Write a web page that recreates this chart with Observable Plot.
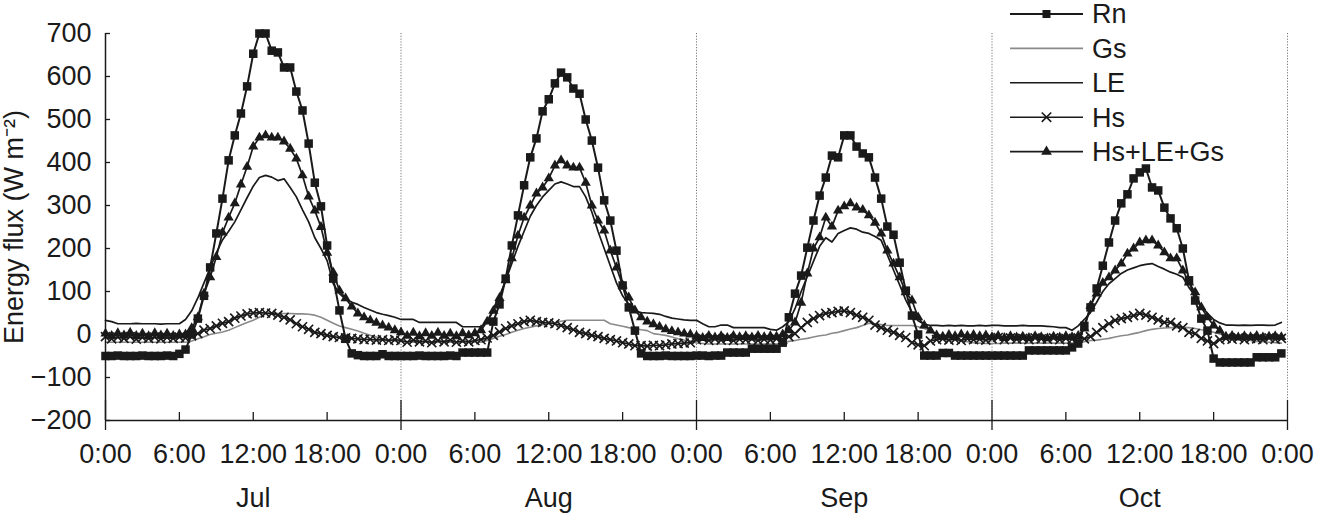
<!DOCTYPE html>
<html><head><meta charset="utf-8">
<script src="https://cdn.jsdelivr.net/npm/d3@7"></script>
<script src="https://cdn.jsdelivr.net/npm/@observablehq/plot@0.6"></script>
<style>
body{margin:0;background:#fff;}
#wrap{position:relative;width:1319px;height:513px;}
#legend{position:absolute;left:0;top:0;pointer-events:none;}
</style></head><body><div id="wrap"></div>
<script>
const FONT = '"Liberation Sans", Arial, Helvetica, sans-serif';
const INK = "#1a1a1a";
const months = ["Jul", "Aug", "Sep", "Oct"];
const hourTicks = [0,6,12,18,24,30,36,42,48,54,60,66,72,78,84,90,96];
const dayTicks = [0,24,48,72,96];
const minorTicks = [6,12,18,30,36,42,54,60,66,78,84,90];
const monthTicks = [12,36,60,84];
const yTicks = [-200,-100,0,100,200,300,400,500,600,700];
const yLabel = "Energy flux (W m\u207B\u00B2)";
const seriesNames = ["Rn", "Gs", "LE", "Hs", "Hs+LE+Gs"];

// half-hourly values, 48 per day (0:00 ... 23:30)
const rnJul = [-50,-50,-49,-50,-50,-50,-49,-50,-50,-50,-49,-50, -45,-35,0,37,90,156,235,316,405,463,514,577, 653,700,700,660,656,621,621,565,521,444,353,298, 207,130,56,-10,-44,-48,-50,-50,-50,-46,-50,-50];
const rnAug = [-50,-50,-50,-49,-50,-50,-50,-50,-49,-50,-42,-42, -42,-42,-42,30,70,130,207,277,347,412,456,519, 547,584,609,598,572,560,500,451,388,312,265,195, 114,63,9,-44,-50,-50,-50,-49,-50,-50,-50,-50];
const rnSep = [-49,-49,-50,-49,-49,-42,-42,-42,-42,-33,-33,-33, -33,-33,-19,40,95,137,202,265,323,365,416,412, 463,463,437,421,412,365,316,251,232,167,102,44, 0,-49,-49,-49,-43,-43,-49,-49,-49,-49,-49,-49];
const rnOct = [-49,-49,-49,-49,-49,-49,-37,-37,-37,-37,-37,-37, -37,-30,-21,20,63,107,160,214,265,305,326,363, 377,386,342,335,295,270,247,200,126,79,37,9, -56,-65,-65,-65,-65,-65,-65,-53,-53,-53,-53,-44];

const gsJul = [-18,-18,-18,-18,-18,-18,-18,-18,-18,-18,-18,-18, -18,-18,-15,-10,-5,0,3,6,10,16,22,28, 33,40,48,49,49,49,49,48,48,47,45,40, 33,26,20,16,12,8,3,-2,-6,-10,-13,-15];
const gsAug = [-16,-17,-18,-18,-18,-18,-18,-18,-18,-18,-18,-18, -18,-18,-14,-9,-4,0,5,10,14,17,20,23, 26,28,31,33,33,33,33,33,33,33,25,22, 19,16,14,11,9,2,0,-2,-6,-10,-13,-15];
const gsSep = [-20,-21,-22,-22,-22,-22,-22,-22,-22,-22,-22,-22, -22,-22,-20,-16,-14,-11,-9,-6,-3,-1,3,5, 9,13,16,21,26,25,23,21,21,21,21,21, 18,14,8,2,-3,-8,-12,-15,-17,-19,-20,-21];
const gsOct = [-21,-21,-20,-20,-20,-20,-20,-20,-20,-20,-20,-20, -20,-20,-19,-17,-14,-13,-11,-9,-6,-3,-1,2, 5,9,12,14,15,16,16,16,16,14,11,9, 5,1,-3,-6,-9,-12,-14,-16,-17,-18,-19,-20];

const leJul = [33,30,25,25,25,26,25,25,25,24,25,25, 25,35,55,85,120,155,190,220,240,262,290,318, 345,365,370,366,358,362,342,320,290,262,225,200, 172,118,95,82,75,70,63,57,51,47,44,40];
const leAug = [35,35,35,28,28,28,28,28,28,28,18,18, 18,18,30,60,90,125,165,205,240,275,300,320, 335,350,355,350,344,344,320,285,240,200,160,120, 90,70,55,51,50,49,47,42,38,36,34,33];
const leSep = [33,25,18,18,22,22,16,16,16,16,16,16, 12,10,18,30,60,100,135,170,205,225,215,235, 242,248,245,238,235,228,219,185,150,115,80,52, 32,24,21,21,20,21,20,21,20,20,21,20];
const leOct = [21,21,20,20,20,21,20,20,20,19,18,16, 16,10,20,35,51,75,100,118,130,142,150,155, 160,163,165,158,152,145,140,133,109,90,65,49, 35,27,22,22,21,22,21,22,22,21,22,28];

const hsJul = [-5,-10,-6,-9,-5,-11,-7,-9,-6,-10,-7,-9, -6,-8,-3,2,10,14,20,26,30,38,43,48, 50,51,50,49,45,40,34,25,18,12,5,2, -2,-5,-7,-8,-9,-10,-12,-11,-13,-12,-14,-12];
const hsAug = [-14,-18,-13,-17,-15,-19,-14,-17,-13,-18,-15,-17, -14,-12,-8,-2,6,14,20,25,30,33,30,28, 27,25,21,16,11,5,2,-2,-5,-9,-12,-15, -19,-22,-26,-26,-27,-25,-26,-24,-22,-21,-20,-19];
const hsSep = [-12,-9,-14,-10,-13,-9,-14,-11,-12,-10,-14,-11, -13,-10,-12,-5,2,16,28,37,44,49,51,54, 55,51,45,40,33,22,16,10,5,-2,-7,-19, -24,-26,-15,-12,-10,-13,-11,-14,-10,-12,-11,-13];
const hsOct = [-10,-7,-12,-8,-11,-9,-12,-8,-10,-11,-8,-12, -9,-11,-8,-10,-5,5,16,25,33,37,40,44, 49,45,40,34,28,28,20,16,5,2,-9,-15, -21,-12,-9,-11,-8,-12,-9,-10,-12,-8,-11,-9];

const sumJul = [2,-3,3,-2,4,-3,2,-4,3,-2,2,-3, 0,0,15,40,95,133,180,237,272,305,349,390, 437,458,463,458,458,449,432,409,370,321,288,250, 190,144,102,84,65,49,40,33,27,21,16,10];
const sumAug = [5,-3,4,-4,3,-3,4,-3,2,-4,3,-2, 3,10,30,55,85,126,177,230,272,300,328,342, 363,393,405,393,388,388,353,300,265,242,195,156, 114,86,56,40,30,24,18,12,8,5,2,0];
const sumSep = [-4,-8,-3,-7,-4,-8,-3,-6,-4,-7,-3,-6, -4,-5,0,10,28,74,142,200,226,272,251,288, 298,305,295,290,277,260,235,195,165,133,98,79, 40,21,9,-2,-5,-1,-4,0,-3,-1,-4,-2];
const sumOct = [-6,-3,-8,-4,-7,-5,-8,-4,-6,-9,-5,-7, -4,-6,-3,14,67,95,120,133,149,165,188,200, 214,219,219,207,191,177,177,149,121,98,63,40, 21,9,-5,-3,-7,-4,-6,-3,-7,-5,-4,-6];

const halfHours = d3.range(0, 96, 0.5);
const toRows = (...days) => days.flat().map((v, i) => ({t: halfHours[i], v}));
const rn = toRows(rnJul, rnAug, rnSep, rnOct);
const gs = toRows(gsJul, gsAug, gsSep, gsOct);
const le = toRows(leJul, leAug, leSep, leOct);
const hs = toRows(hsJul, hsAug, hsSep, hsOct);
const sum = toRows(sumJul, sumAug, sumSep, sumOct);

const GREY = "#8a8a8a";
const chart = Plot.plot({
  width: 1319, height: 513,
  marginLeft: 105, marginRight: 32, marginTop: 33, marginBottom: 93,
  style: {fontFamily: FONT, fontSize: "27px", color: INK, background: "white"},
  x: {domain: [0, 96], axis: null},
  y: {domain: [-200, 700], axis: null},
  marks: [
    Plot.ruleX(dayTicks.slice(1), {stroke: "#777", strokeDasharray: "1.2,1.6", strokeWidth: 1}),
    Plot.line(gs, {x: "t", y: "v", stroke: GREY, strokeWidth: 1.6}),
    Plot.line(le, {x: "t", y: "v", stroke: INK, strokeWidth: 1.7}),
    Plot.line(sum, {x: "t", y: "v", stroke: INK, strokeWidth: 1.7}),
    Plot.dot(sum, {x: "t", y: "v", symbol: "triangle", r: 3.8, fill: INK, stroke: "none"}),
    Plot.line(hs, {x: "t", y: "v", stroke: INK, strokeWidth: 1.7}),
    Plot.dot(hs, {x: "t", y: "v", symbol: "times", r: 4.2, fill: "none", stroke: INK, strokeWidth: 1.6}),
    Plot.line(rn, {x: "t", y: "v", stroke: INK, strokeWidth: 2}),
    Plot.dot(rn, {x: "t", y: "v", symbol: "square", r: 4.8, fill: INK, stroke: "none"}),
    Plot.ruleX([0], {stroke: INK, strokeWidth: 1.5}),
    Plot.ruleY([-200], {stroke: INK, strokeWidth: 1.5}),
    Plot.axisY({ticks: yTicks, tickSize: 5, dx: 5, fill: "none", stroke: INK, strokeWidth: 1.3, label: null}),
    Plot.axisY({ticks: yTicks, tickSize: 0, tickPadding: 14, fill: INK, label: null}),
    Plot.axisX({ticks: dayTicks, tickSize: 30, dy: -20, fill: "none", stroke: INK, strokeWidth: 1.3, label: null}),
    Plot.axisX({ticks: minorTicks, tickSize: 8, dy: -8, fill: "none", stroke: INK, strokeWidth: 1.3, label: null}),
    Plot.axisX({ticks: hourTicks, tickSize: 0, tickPadding: 23, fill: INK, tickFormat: h => `${h % 24}:00`, label: null}),
    Plot.axisX({ticks: monthTicks, tickSize: 0, tickPadding: 67, fill: INK, tickFormat: h => months[Math.floor(h / 24)], label: null}),
    Plot.text([yLabel], {text: d => d, frameAnchor: "left", textAnchor: "middle", rotate: -90, dx: -91, fill: INK})
  ]
});
const wrap = document.getElementById("wrap");
wrap.appendChild(chart);

// legend overlay (top right)
const legendStyles = [
  {stroke: INK, width: 2, symbol: d3.symbolSquare, size: 64, fill: INK},
  {stroke: GREY, width: 1.6},
  {stroke: INK, width: 1.6},
  {stroke: INK, width: 1.6, symbol: d3.symbolTimes, size: 60, fill: "none", mstroke: INK},
  {stroke: INK, width: 1.6, symbol: d3.symbolTriangle, size: 50, fill: INK}
];
const lg = d3.select(wrap).append("svg").attr("id", "legend").attr("width", 1319).attr("height", 175)
  .style("font-family", FONT).style("font-size", "27px");
seriesNames.forEach((name, i) => {
  const s = legendStyles[i];
  const y = 14 + i * 34.4;
  const g = lg.append("g").attr("transform", `translate(0,${y})`);
  g.append("line").attr("x1", 1010).attr("x2", 1083).attr("y1", 0).attr("y2", 0)
    .attr("stroke", s.stroke).attr("stroke-width", s.width);
  if (s.symbol) {
    g.append("path").attr("transform", "translate(1046.5,0)")
      .attr("d", d3.symbol(s.symbol, s.size)())
      .attr("fill", s.fill).attr("stroke", s.mstroke || "none").attr("stroke-width", 1.6);
  }
  g.append("text").attr("x", 1092).attr("y", 0).attr("dy", "0.35em").attr("fill", INK).text(name);
});
</script></body></html>
